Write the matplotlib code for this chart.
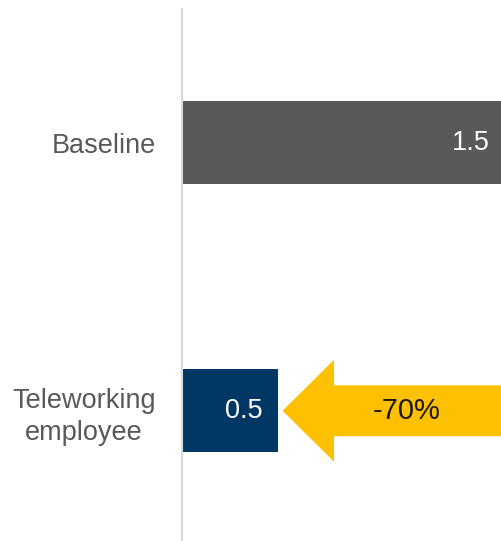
import matplotlib.pyplot as plt
from matplotlib.patches import FancyArrow

plt.rcParams['font.family'] = ['Liberation Sans', 'DejaVu Sans']

# data
categories = ['Teleworking\nemployee', 'Baseline']
values = [0.45, 1.5]
labels = ['0.5', '1.5']
change = -0.70
bar_colors = ['#003764', '#595959']

fig = plt.figure(figsize=(5.01, 5.41), dpi=100)
ax = fig.add_axes([182/501, 0, 319/501, 532/541])

ypos = [0, 1]
ax.barh(ypos, values, height=0.31, color=bar_colors)

# value labels inside the bars
for y, v, lab, off in zip(ypos, values, labels, [-11, -8]):
    ax.annotate(lab, (v, y), xytext=(off, 0), textcoords='offset points',
                ha='right', va='center', color='white', fontsize=19.5)

# reduction arrow from baseline to teleworking value
start = values[1]
end = values[0] + 0.023
arr = FancyArrow(start, ypos[0], end - start, 0, width=0.19, head_width=0.38,
                 head_length=0.242, length_includes_head=True,
                 color='#FFC000', lw=0)
ax.add_patch(arr)
ax.text(1.056, ypos[0], f'{change:.0%}', ha='center', va='center',
        fontsize=21, color='#1a1a1a')

ax.set_xlim(0, 1.5)
ax.set_ylim(-0.486, 1.499)
ax.set_yticks(ypos)
ax.set_yticklabels(categories, fontsize=19.5, color='#595959',
                   multialignment='center', linespacing=1.3)
ax.tick_params(axis='y', length=0, pad=19)
ax.set_xticks([])
for s in ['top', 'right', 'bottom']:
    ax.spines[s].set_visible(False)
ax.spines['left'].set_color('#d9d9d9')
ax.spines['left'].set_linewidth(1.5)

fig.savefig('out.png', dpi=100)
